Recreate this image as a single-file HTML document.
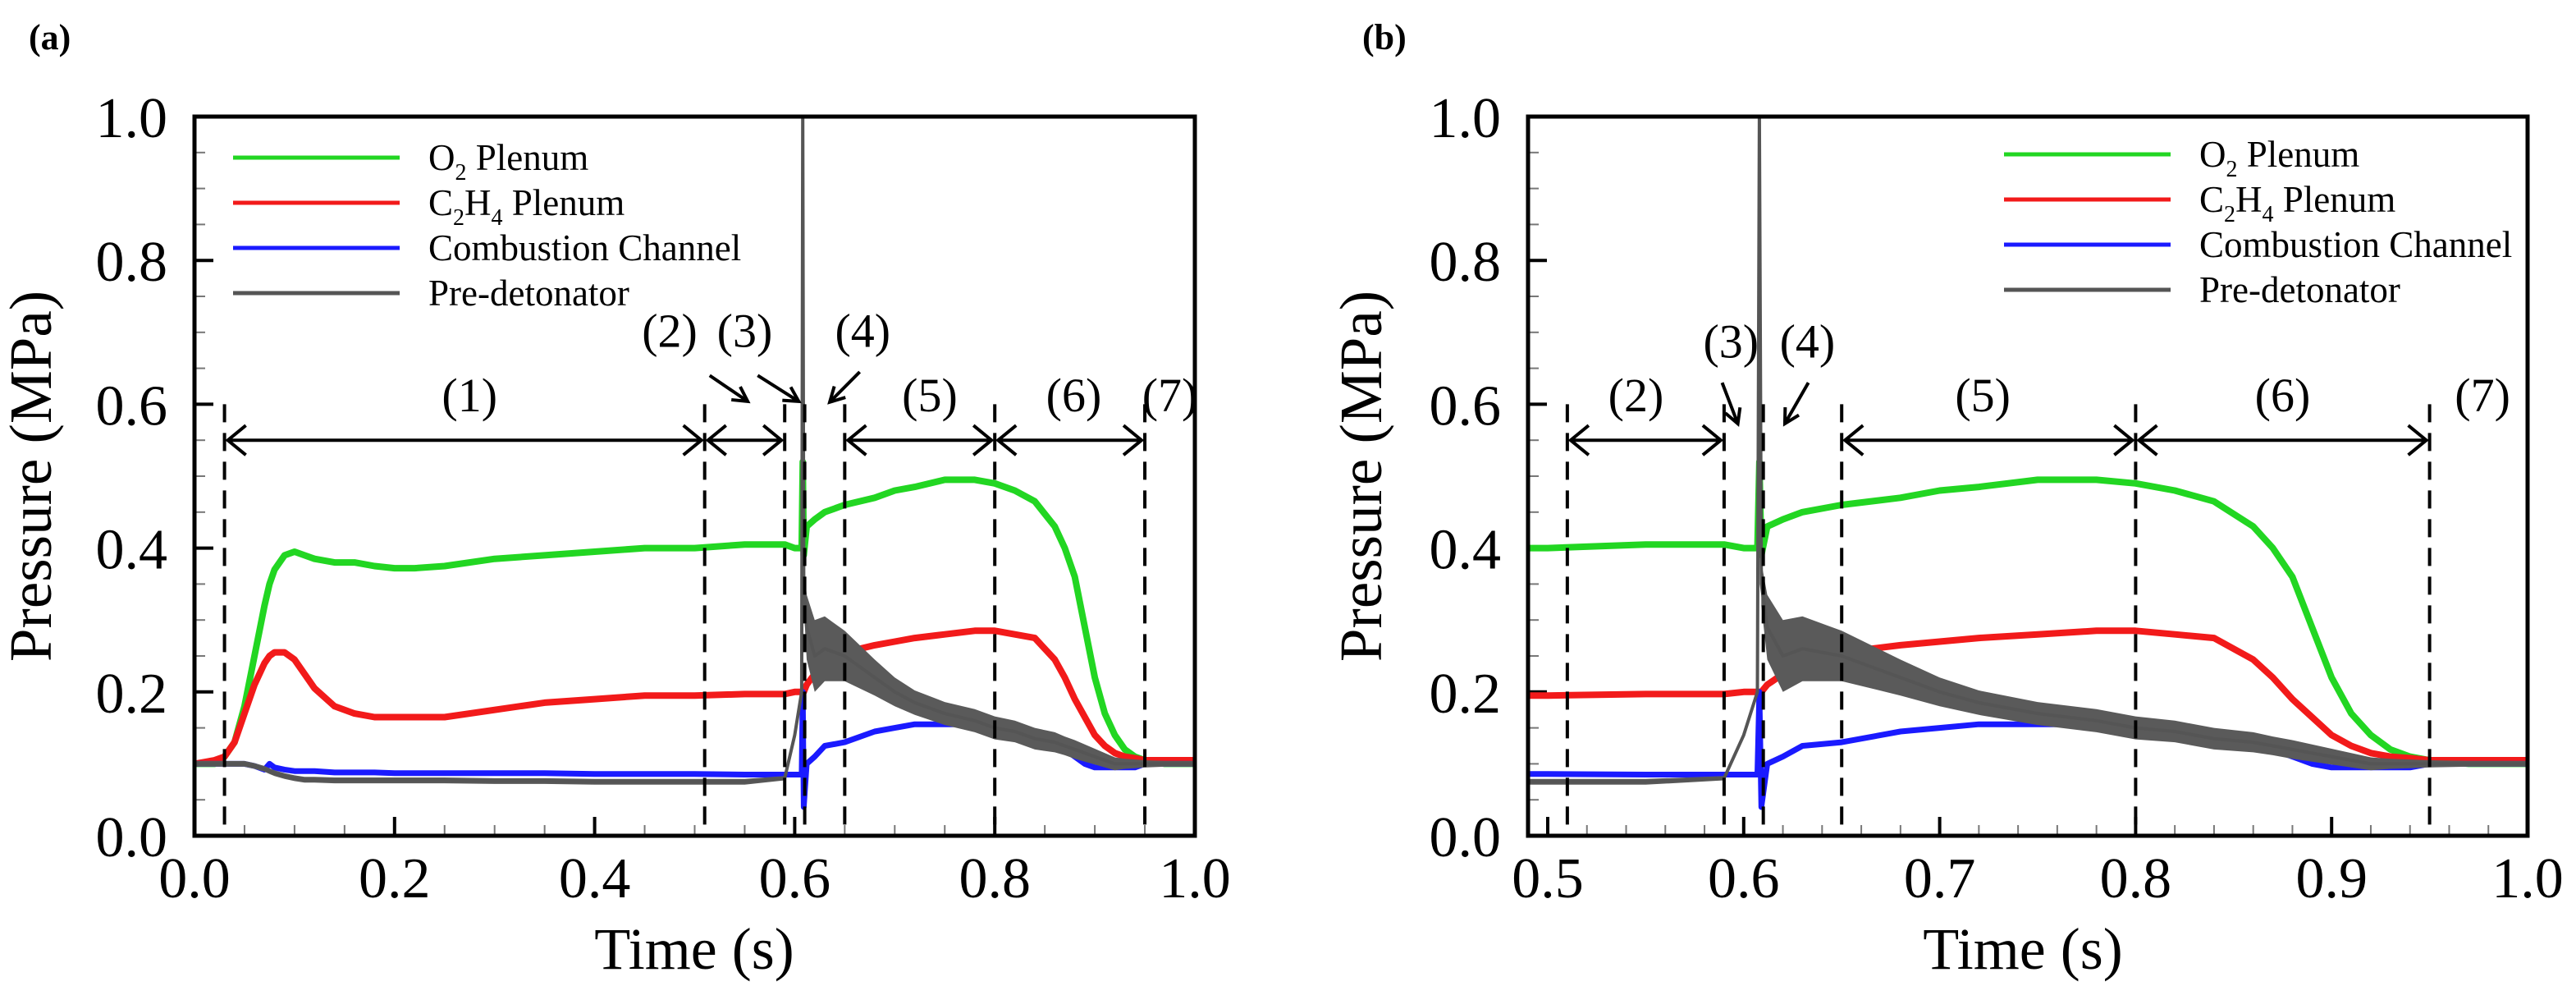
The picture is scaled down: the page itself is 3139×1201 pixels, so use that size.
<!DOCTYPE html>
<html><head><meta charset="utf-8"><style>
html,body{margin:0;padding:0;background:#fff;}
svg{display:block;font-family:"Liberation Serif",serif;}
</style></head><body>
<svg id="fig" width="3139" height="1201" viewBox="0 0 3139 1201" xmlns="http://www.w3.org/2000/svg">
<defs>
<clipPath id="clipA"><rect x="237" y="142" width="1219" height="876"/></clipPath>
<clipPath id="clipB"><rect x="1862" y="142" width="1218" height="876"/></clipPath>
</defs>
</svg>
<script>
// ---- data (shared by both panels) ----
const times = [0,0.02,0.03,0.04,0.05,0.06,0.07,0.075,0.08,0.09,
0.10,0.11,0.12,0.14,0.16,0.18,0.20,0.22,0.25,0.30,
0.35,0.40,0.45,0.50,0.55,0.59,0.60,0.607,0.608,0.609,
0.612,0.62,0.63,0.65,0.68,0.70,0.72,0.75,0.78,0.80,
0.82,0.84,0.86,0.87,0.88,0.89,0.90,0.91,0.92,0.93,
0.94,0.95,0.97,1.0];
const o2Plenum = [0.10,0.10,0.11,0.13,0.18,0.25,0.32,0.35,0.37,0.39,
0.395,0.39,0.385,0.38,0.38,0.375,0.372,0.372,0.375,0.385,
0.39,0.395,0.40,0.40,0.405,0.405,0.40,0.40,0.52,0.39,
0.43,0.44,0.45,0.46,0.47,0.48,0.485,0.495,0.495,0.49,
0.48,0.465,0.43,0.40,0.36,0.29,0.22,0.17,0.14,0.12,
0.11,0.105,0.10,0.10];
const c2h4Plenum = [0.10,0.105,0.11,0.13,0.17,0.21,0.24,0.25,0.255,0.255,
0.245,0.225,0.205,0.18,0.17,0.165,0.165,0.165,0.165,0.175,
0.185,0.19,0.195,0.195,0.197,0.197,0.20,0.20,0.20,0.20,
0.21,0.225,0.24,0.255,0.265,0.27,0.275,0.28,0.285,0.285,
0.28,0.275,0.245,0.22,0.19,0.165,0.14,0.125,0.115,0.11,
0.108,0.105,0.105,0.105];
const combustionChannel = [0.10,0.10,0.10,0.10,0.10,0.097,0.092,0.10,0.095,0.092,
0.09,0.09,0.09,0.088,0.088,0.088,0.087,0.087,0.087,0.087,
0.087,0.086,0.086,0.086,0.085,0.085,0.085,0.085,0.20,0.04,
0.10,0.11,0.125,0.13,0.145,0.15,0.155,0.155,0.155,0.16,
0.155,0.145,0.13,0.12,0.11,0.10,0.095,0.095,0.095,0.095,
0.095,0.10,0.10,0.10];
const preDetonator = [0.10,0.10,0.10,0.10,0.10,0.097,0.093,0.09,0.087,0.083,
0.08,0.078,0.078,0.077,0.077,0.077,0.077,0.077,0.077,0.076,
0.076,0.075,0.075,0.075,0.075,0.08,0.14,0.20,1.0,0.35,
0.29,0.25,0.26,0.25,0.22,0.20,0.185,0.17,0.16,0.15,
0.145,0.135,0.13,0.125,0.12,0.115,0.11,0.105,0.10,0.10,
0.10,0.10,0.10,0.10];
const preDetonatorOsc = [0.004,0.004,0.004,0.004,0.004,0.004,0.004,0.004,0.004,0.004,
0.004,0.004,0.004,0.004,0.004,0.004,0.004,0.004,0.004,0.004,
0.004,0.004,0.004,0.004,0.004,0.003,0.003,0.003,0,0.03,
0.045,0.05,0.045,0.035,0.025,0.02,0.017,0.016,0.016,0.016,
0.015,0.015,0.014,0.013,0.013,0.012,0.011,0.01,0.009,0.007,
0.006,0.005,0.004,0.004];
const yTicks = ["0.0","0.2","0.4","0.6","0.8","1.0"];
const xTicksA = ["0.0","0.2","0.4","0.6","0.8","1.0"];
const xTicksB = ["0.5","0.6","0.7","0.8","0.9","1.0"];
const phaseBoundsA = [0.03,0.51,0.59,0.61,0.65,0.80,0.95];
const phaseBoundsB = [0.51,0.59,0.61,0.65,0.80,0.95];

const NS="http://www.w3.org/2000/svg";
const svg=document.getElementById('fig');
function el(tag,attrs,parent,text){const e=document.createElementNS(NS,tag);for(const k in attrs)e.setAttribute(k,attrs[k]);if(text!==undefined)e.textContent=text;(parent||svg).appendChild(e);return e;}

const Y0=1018,Y1=142;
function yS(v){return Y0-(Y0-Y1)*v;}

function panel(cfg){
  const g=el('g',{});
  
  
  const xS=v=>cfg.px0+(cfg.px1-cfg.px0)*(v-cfg.v0)/(cfg.v1-cfg.v0);
  const L=cfg.left,R=cfg.px1;
  for(let v=0;v<=1.0001;v+=0.05){
    const major=Math.abs(v*5-Math.round(v*5))<1e-6;
    const t=el('line',{x1:L,x2:L+(major?23:13),y1:yS(v),y2:yS(v),stroke:major?'#000':'#777','stroke-width':major?4:2},g);
    
    
  }
  for(let v=cfg.v0;v<=cfg.v1+1e-6;v+=cfg.minor){
    const major=Math.abs((v-cfg.v0)/cfg.major-Math.round((v-cfg.v0)/cfg.major))<1e-6;
    const t=el('line',{x1:xS(v),x2:xS(v),y1:Y0,y2:Y0-(major?23:13),stroke:major?'#000':'#777','stroke-width':major?4:2},g);
    
    
  }
  yTicks.forEach(s=>{
    const t=el('text',{x:cfg.ylabRight,y:yS(parseFloat(s))+25,'font-size':70,'text-anchor':'end',fill:'#000'},g,s);
    
    
  });
  cfg.xt.forEach(s=>{
    const t=el('text',{x:xS(parseFloat(s)),y:1093,'font-size':70,'text-anchor':'middle',fill:'#000'},g,s);
    
    
  });
  const yt=el('text',{transform:`translate(${cfg.ytx},580) rotate(-90)`,'font-size':73,'text-anchor':'middle'},g,'Pressure (MPa)');
  
  
  const xt=el('text',{x:cfg.xtx,y:1180,'font-size':72,'text-anchor':'middle'},g,'Time (s)');
  
  
  const pl=el('text',{x:cfg.plx,y:60,'font-size':44,'font-weight':'bold'},g,cfg.plab);
  
  

  const sg=el('g',{'clip-path':`url(#${cfg.clip})`},g);
  
  
  function line(vals,color,w,name){
    const d=times.map((t,i)=>(i?'L':'M')+xS(t).toFixed(1)+' '+yS(vals[i]).toFixed(1)).join(' ');
    const p=el('path',{d:d,fill:'none',stroke:color,'stroke-width':w,'stroke-linejoin':'round'},sg);
    
    
  }
  let up=times.map((t,i)=>xS(t).toFixed(1)+','+yS(preDetonator[i]+preDetonatorOsc[i]).toFixed(1));
  let lo=times.map((t,i)=>xS(t).toFixed(1)+','+yS(preDetonator[i]-preDetonatorOsc[i]).toFixed(1)).reverse();
  line(o2Plenum,'#22d622',8,'o2-plenum-line');
  line(c2h4Plenum,'#f21a1a',8,'c2h4-plenum-line');
  line(combustionChannel,'#1a1aff',7,'combustion-channel-line');
  const band=el('polygon',{points:up.concat(lo).join(' '),fill:'#5a5a5a',stroke:'none'},sg);
  
  
  line(preDetonator,'#555',4,'pre-detonator-line');

  cfg.bounds.forEach(b=>{
    const d=el('line',{x1:xS(b),x2:xS(b),y1:yS(0.6),y2:Y0,stroke:'#000','stroke-width':4,'stroke-dasharray':'22 13'},g);
    
    
  });
  function harrow(a,b){
    const y=yS(0.55),x1=xS(a)+4,x2=xS(b)-4;
    const p=el('path',{d:`M${x1} ${y}H${x2} M${x1+22} ${y-18}L${x1} ${y}L${x1+22} ${y+18} M${x2-22} ${y-18}L${x2} ${y}L${x2-22} ${y+18}`,fill:'none',stroke:'#000','stroke-width':4},g);
    
    
  }
  cfg.spans.forEach(s=>harrow(s[0],s[1]));
  function darrow(a,av,b,bv){
    const x1=xS(a),y1=yS(av),x2=xS(b),y2=yS(bv);
    const ang=Math.atan2(y2-y1,x2-x1),h=20;
    const p=el('path',{d:`M${x1} ${y1}L${x2} ${y2} M${x2-h*Math.cos(ang-0.5)} ${y2-h*Math.sin(ang-0.5)}L${x2} ${y2}L${x2-h*Math.cos(ang+0.5)} ${y2-h*Math.sin(ang+0.5)}`,fill:'none',stroke:'#000','stroke-width':4},g);
    
    
  }
  cfg.darrows.forEach(d=>darrow(...d));
  cfg.labels.forEach(l=>{
    const t=el('text',{x:xS(l[1]),y:yS(l[2]),'font-size':58,'text-anchor':'middle'},g,l[0]);
    
    
  });

  const box=el('rect',{x:L,y:Y1,width:R-L,height:Y0-Y1,fill:'none',stroke:'#000','stroke-width':5},g);
  
  

  const lg=el('g',{},g);
  
  
  const cols=['#22d622','#f21a1a','#1a1aff','#555'];
  cols.forEach((c,i)=>{
    const y=cfg.legY+i*55;
    const ln=el('line',{x1:cfg.legX,x2:cfg.legX+203,y1:y,y2:y,stroke:c,'stroke-width':5},lg);
    
    
    const t=el('text',{x:cfg.legX+238,y:y+15,'font-size':45},lg);
    
    
    if(i===0){el('tspan',{},t,'O');el('tspan',{'font-size':28,dy:12},t,'2');el('tspan',{dy:-12},t,' Plenum');}
    else if(i===1){el('tspan',{},t,'C');el('tspan',{'font-size':28,dy:12},t,'2');el('tspan',{dy:-12},t,'H');el('tspan',{'font-size':28,dy:12},t,'4');el('tspan',{dy:-12},t,' Plenum');}
    else if(i===2){t.textContent='Combustion Channel';}
    else {t.textContent='Pre-detonator';}
  });
}

panel({name:'panel-a',clip:'clipA',left:237,px0:237,px1:1456,v0:0,v1:1,minor:0.05,major:0.2,xt:xTicksA,
  ylabRight:204,ytx:62,xtx:846,plx:35,plab:'(a)',legX:284,legY:192,bounds:phaseBoundsA,
  spans:[[0.03,0.51],[0.51,0.59],[0.65,0.80],[0.80,0.95]],
  darrows:[[0.515,0.64,0.553,0.604],[0.563,0.64,0.604,0.604],[0.665,0.645,0.635,0.603]],
  labels:[['(1)',0.275,0.59],['(2)',0.475,0.68],['(3)',0.55,0.68],['(4)',0.668,0.68],['(5)',0.735,0.59],['(6)',0.879,0.59],['(7)',0.975,0.59]]});
panel({name:'panel-b',clip:'clipB',left:1862,px0:1886,px1:3080,v0:0.5,v1:1,minor:0.02,major:0.1,xt:xTicksB,
  ylabRight:1829,ytx:1683,xtx:2465,plx:1660,plab:'(b)',legX:2442,legY:188,bounds:phaseBoundsB,
  spans:[[0.51,0.59],[0.65,0.80],[0.80,0.95]],
  darrows:[[0.589,0.63,0.597,0.573],[0.633,0.63,0.621,0.573]],
  labels:[['(2)',0.545,0.59],['(3)',0.5935,0.665],['(4)',0.6325,0.665],['(5)',0.722,0.59],['(6)',0.875,0.59],['(7)',0.977,0.59]]});
</script>
</body></html>
